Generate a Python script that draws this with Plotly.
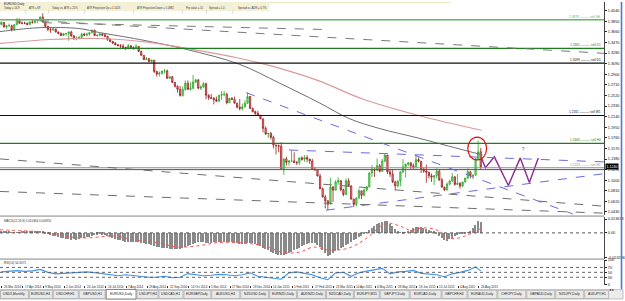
import plotly.graph_objects as go

W, H = 625, 301
XMAX = 606 / 1.3          # trading-day units spanned by the price panel

# ---------------- data ----------------
first_open = 1.3795
close = [1.3830,1.3750,1.3770,1.3770,1.3700,1.3790,1.3890,1.3815,1.3815,1.3815,
         1.3795,1.3835,1.3830,1.3865,1.3870,1.3925,1.3840,1.3760,1.3705,1.3700,
         1.3710,1.3660,1.3635,1.3595,1.3630,1.3630,1.3660,1.3590,1.3535,1.3545,
         1.3560,1.3620,1.3600,1.3620,1.3645,1.3690,1.3595,1.3600,1.3620,1.3605,
         1.3580,1.3525,1.3490,1.3460,1.3430,1.3415,1.3405,1.3380,1.3370,1.3410,
         1.3380,1.3365,1.3400,1.3310,1.3240,1.3165,1.3180,1.3130,1.3150,1.2950,
         1.2905,1.2920,1.2960,1.2960,1.2830,1.2855,1.2755,1.2685,1.2630,1.2520,
         1.2625,1.2740,1.2630,1.2650,1.2760,1.2800,1.2650,1.2670,1.2730,1.2525,
         1.2480,1.2470,1.2445,1.2415,1.2525,1.2535,1.2540,1.2390,1.2470,1.2450,
         1.2380,1.2310,1.2285,1.2315,1.2380,1.2500,1.2290,1.2230,1.2200,1.2160,
         1.2100,1.1930,1.1830,1.1840,1.1770,1.1630,1.1620,1.1610,1.1205,1.1380,
         1.1320,1.1345,1.1345,1.1315,1.1315,1.1400,1.1375,1.1405,1.1380,1.1345,
         1.1200,1.1185,1.1075,1.0845,1.0700,1.0630,1.0570,1.0880,1.0820,1.0970,
         1.0990,1.0830,1.0745,1.0990,1.0900,1.0660,1.0565,1.0680,1.0810,1.0730,
         1.0825,1.0880,1.1130,1.1200,1.1180,1.1260,1.1160,1.1345,1.1450,1.1150,
         1.1110,1.0970,1.0900,1.0985,1.1150,1.1240,1.1290,1.1310,1.1260,1.1240,
         1.1370,1.1340,1.1200,1.1165,1.1145,1.1080,1.1055,1.1080,1.1160,1.1005,
         1.0875,1.0825,1.0930,1.0985,1.1060,1.0925,1.0945,1.0895,1.0965,1.1040,
         1.1150,1.1085,1.1090,1.1385,1.1510,1.1240]
high = [1.3850,1.3835,1.3780,1.3810,1.3790,1.3800,1.3905,1.3895,1.3850,1.3845,
        1.3830,1.3850,1.3875,1.3880,1.3885,1.3940,1.3993,1.3850,1.3770,1.3735,
        1.3730,1.3720,1.3665,1.3650,1.3640,1.3640,1.3665,1.3680,1.3600,1.3580,
        1.3590,1.3645,1.3645,1.3650,1.3660,1.3700,1.3700,1.3615,1.3640,1.3640,
        1.3635,1.3590,1.3545,1.3495,1.3475,1.3445,1.3440,1.3445,1.3395,1.3445,
        1.3425,1.3400,1.3445,1.3385,1.3325,1.3245,1.3210,1.3195,1.3165,1.3160,
        1.2965,1.2950,1.2960,1.2995,1.2985,1.2860,1.2870,1.2760,1.2700,1.2690,
        1.2680,1.2790,1.2790,1.2760,1.2887,1.2810,1.2810,1.2705,1.2760,1.2750,
        1.2540,1.2545,1.2490,1.2500,1.2525,1.2600,1.2600,1.2570,1.2475,1.2490,
        1.2500,1.2390,1.2455,1.2375,1.2435,1.2570,1.2510,1.2300,1.2250,1.2245,
        1.2175,1.2105,1.1965,1.1845,1.1865,1.1800,1.1640,1.1640,1.1680,1.1390,
        1.1420,1.1360,1.1534,1.1500,1.1345,1.1405,1.1430,1.1450,1.1450,1.1380,
        1.1385,1.1240,1.1200,1.1115,1.0870,1.0740,1.0640,1.1043,1.0890,1.1000,
        1.1050,1.1000,1.0850,1.1035,1.1035,1.0900,1.0670,1.0690,1.0850,1.0810,
        1.0850,1.0900,1.1140,1.1270,1.1210,1.1390,1.1290,1.1380,1.1467,1.1450,
        1.1195,1.1190,1.0990,1.0990,1.1160,1.1380,1.1290,1.1320,1.1325,1.1300,
        1.1436,1.1410,1.1345,1.1230,1.1280,1.1150,1.1120,1.1090,1.1215,1.1200,
        1.1040,1.0880,1.0960,1.1010,1.1130,1.1070,1.1110,1.0965,1.0975,1.1040,
        1.1215,1.1160,1.1100,1.1390,1.1714,1.1580]
low = [1.3790,1.3740,1.3715,1.3760,1.3670,1.3680,1.3790,1.3810,1.3795,1.3800,
       1.3780,1.3790,1.3810,1.3810,1.3815,1.3860,1.3830,1.3750,1.3670,1.3645,
       1.3675,1.3650,1.3615,1.3585,1.3590,1.3590,1.3503,1.3570,1.3520,1.3510,
       1.3530,1.3535,1.3585,1.3590,1.3590,1.3640,1.3585,1.3575,1.3590,1.3580,
       1.3570,1.3500,1.3475,1.3440,1.3420,1.3400,1.3370,1.3365,1.3335,1.3355,
       1.3365,1.3340,1.3355,1.3300,1.3240,1.3155,1.3155,1.3110,1.3110,1.2920,
       1.2860,1.2860,1.2895,1.2910,1.2815,1.2815,1.2740,1.2660,1.2570,1.2500,
       1.2500,1.2610,1.2620,1.2610,1.2630,1.2740,1.2640,1.2615,1.2660,1.2450,
       1.2440,1.2455,1.2360,1.2410,1.2430,1.2440,1.2505,1.2360,1.2390,1.2440,
       1.2380,1.2290,1.2250,1.2250,1.2305,1.2370,1.2280,1.2220,1.2165,1.2155,
       1.2100,1.1860,1.1810,1.1755,1.1730,1.1570,1.1460,1.1500,1.1200,1.1098,
       1.1260,1.1260,1.1340,1.1310,1.1270,1.1270,1.1350,1.1330,1.1320,1.1290,
       1.1195,1.1175,1.1070,1.0840,1.0690,1.0495,1.0462,1.0570,1.0610,1.0820,
       1.0920,1.0800,1.0710,1.0730,1.0880,1.0660,1.0520,1.0530,1.0670,1.0660,
       1.0710,1.0800,1.0870,1.1060,1.1060,1.1170,1.1140,1.1150,1.1320,1.1110,
       1.1060,1.0950,1.0819,1.0870,1.0890,1.1130,1.1050,1.1250,1.1190,1.1200,
       1.1210,1.1320,1.1130,1.1130,1.0955,1.1030,1.0970,1.0915,1.1030,1.0990,
       1.0870,1.0808,1.0820,1.0910,1.0970,1.0900,1.0915,1.0850,1.0880,1.0960,
       1.1020,1.1030,1.1020,1.1085,1.1360,1.1200]
open_ = [first_open] + close[:-1]
bar_day = [2 * i + 1 for i in range(len(close))]      # each candle = 2 trading days

macd_hist = [0.0020,0.0018,0.0012,0.0008,0.0004,0.0002,0.0003,0.0006,0.0010,0.0012,
             0.0011,0.0009,0.0008,0.0009,0.0011,0.0014,0.0012,
             -0.0004,-0.0012,-0.0020,-0.0027,-0.0033,
             -0.0040,-0.0047,-0.0053,-0.0060,-0.0063,-0.0068,-0.0066,-0.0068,-0.0062,-0.0056,
             -0.0050,-0.0044,-0.0038,-0.0030,
             -0.0022,-0.0018,-0.0016,-0.0017,-0.0024,-0.0032,
             -0.0042,-0.0052,-0.0062,-0.0070,-0.0076,-0.0081,-0.0086,-0.0088,-0.0087,-0.0088,
             -0.0087,-0.0092,-0.0098,-0.0104,-0.0110,-0.0113,-0.0116,-0.0128,
             -0.0136,-0.0142,-0.0146,-0.0148,-0.0150,-0.0156,-0.0160,-0.0160,-0.0163,-0.0160,
             -0.0152,-0.0140,
             -0.0128,-0.0116,-0.0106,-0.0098,-0.0093,-0.0092,-0.0094,-0.0098,-0.0100,-0.0098,
             -0.0094,-0.0091,-0.0088,-0.0086,-0.0088,-0.0090,-0.0092,-0.0095,
             -0.0098,-0.0104,-0.0110,-0.0112,-0.0108,-0.0100,-0.0098,
             -0.0104,-0.0112,-0.0122,-0.0132,-0.0146,-0.0160,-0.0172,-0.0186,-0.0198,-0.0208,
             -0.0216,-0.0222,
             -0.0220,-0.0212,-0.0200,-0.0186,-0.0172,-0.0158,-0.0146,-0.0134,-0.0124,-0.0114,
             -0.0104,-0.0098,
             -0.0104,-0.0120,-0.0142,-0.0170,-0.0200,-0.0232,
             -0.0218,-0.0200,-0.0184,-0.0168,-0.0150,-0.0136,-0.0124,-0.0110,-0.0094,-0.0076,
             -0.0060,-0.0044,-0.0028,-0.0012,
             0.0006,0.0026,0.0046,0.0066,0.0084,0.0098,0.0110,0.0117,0.0112,
             0.0090,0.0064,0.0040,0.0018,
             0.0004,-0.0004,0.0006,0.0018,
             0.0032,0.0044,0.0054,0.0060,0.0058,0.0050,
             0.0038,0.0030,0.0022,0.0012,-0.0006,
             -0.0030,-0.0056,-0.0074,-0.0078,-0.0066,
             -0.0048,-0.0032,-0.0022,-0.0016,-0.0010,-0.0004,0.0006,0.0020,
             0.0046,0.0080,0.0112,0.0104]

signal_day = [0,33,46,62,77,88,104,121,138,154,169,188,204,219,231,242,254,269,282,298,
              308,317,327,338,348,359,372]
signal_val = [0.0030,0.0008,-0.0020,-0.0050,-0.0040,-0.0030,-0.0070,-0.0095,-0.0140,-0.0125,
              -0.0095,-0.0100,-0.0130,-0.0195,-0.0190,-0.0140,-0.0170,-0.0150,-0.0060,0.0095,
              0.0070,0.0025,0.0050,0.0025,-0.0055,-0.0030,0.0050]

rsi_bar = list(range(0, 186, 3)) + [185]
rsi_val = [52,55,57,54,56,62,50,44,46,48,50,52,49,44,38,36,40,36,34,30,
           30,34,28,30,45,40,36,38,42,40,36,40,48,34,30,26,22,48,52,46,
           40,28,20,48,50,34,48,55,62,66,44,52,54,58,46,44,40,32,44,50,
           58,72,56]

ma_slow_day = [0,30.8,61.5,76.9,107.7,143.8,184.6,215.4,246.2,269.2,292.3,323.1,346.2,372.3]
ma_slow_val = [1.3666,1.3736,1.3719,1.3648,1.3524,1.3347,1.3081,1.2745,1.2391,1.2108,
               1.1931,1.1754,1.1612,1.1453]
ma_long_day = [0,38.5,76.9,115.4,148.5,184.6,210.0,246.2,279.2,323.1,371.5]
ma_long_val = [1.3453,1.3524,1.3542,1.3471,1.3347,1.3188,1.3046,1.2781,1.2462,1.2161,1.1896]

level_price = [1.3878, 1.3365, 1.3099, 1.2161, 1.1660, 1.1223, 1.1190]
level_text = ["1.3878 ——— sell 4H", "1.3365 ——— sell D1", "1.3099 ——— sell D1",
              "1.2161 ——— sell W1", "1.1660 ——— sell H4", "1.1223 ——— res H1", ""]

trend_day0 = [33.1, 30.8, 190.0, 223.0, 251.5, 0.0, 0.0]
trend_p0 = [1.3825, 1.3860, 1.2570, 1.1542, 1.0462, 1.1382, 1.0798]
trend_day1 = [254.0, 466.2, 442.0, 466.2, 466.2, 466.2, 466.2]
trend_p1 = [1.3701, 1.3276, 1.0395, 1.1329, 1.1117, 1.0533, 1.0409]

zig_day = [371.5, 374.6, 381.5, 392.3, 401.5, 408.5, 415.4]
zig_val = [1.1400, 1.1223, 1.1418, 1.0904, 1.1400, 1.0958, 1.1400]

price_ticks = [1.0430,1.0620,1.0810,1.1000,1.1190,1.1380,1.1570,1.1760,1.1950,1.2140,
               1.2330,1.2520,1.2710,1.2900,1.3090,1.3280,1.3470,1.3660,1.3850,1.4040]
macd_ticks = [0.0136, 0.0, -0.0243]
macd_tick_text = ["0.013633", "0.00", "-0.024296"]
rsi_ticks = [100, 70, 50, 30, 0]
rsi_levels = [70, 50, 30]

date_labels = ["26 Mar 2014","17 Apr 2014","9 May 2014","2 Jun 2014","24 Jun 2014",
               "16 Jul 2014","7 Aug 2014","29 Aug 2014","22 Sep 2014","14 Oct 2014",
               "5 Nov 2014","27 Nov 2014","19 Dec 2014","14 Jan 2015","5 Feb 2015",
               "27 Feb 2015","23 Mar 2015","14 Apr 2015","6 May 2015","28 May 2015",
               "19 Jun 2015","13 Jul 2015","4 Aug 2015","26 Aug 2015"]
date_label_day = [16 * j + 1.5 for j in range(len(date_labels))]

tabs = ["USDX,Monthly","EURUSD,H4","USDCHF,H1","GBPUSD,H1","EURUSD,Daily","USDJPY,H4",
        "USDCAD,H1","EURGBP,Daily","AUDUSD,H4","NZDUSD,Daily","EURNZD,Daily","AUDNZD,Daily",
        "NZDCAD,Daily","EURJPY,M15","GBPJPY,Daily","EURCAD,Daily","GBPCHF,H4","EURAUD,Daily",
        "CHFJPY,Daily","GBPAUD,Daily","NZDJPY,Daily","AUDJPY,H1"]
tab_edges = [0,29,53,79,106,137,159,184,212,241,270,298,327,355,381,411,443,469,499,528,
             557,586,611]
header_items = ["Today = 14.9","ATR = 69","Today vs. ATR = 22%","ATR Projection Up = 1.1423",
                "ATR Projection Down = 1.0882","Pip value = 10","Spread = 1.4",
                "Spread vs. ADR = 0.7%"]
header_x = [2, 27, 50, 85, 135, 185, 208, 237]

# ---------------- helpers (pixel -> paper) ----------------
def fx(px):
    return px / W

def fy(py):
    return 1 - py / H

FONT = "Liberation Sans"
XDOM = [0, fx(606)]

fig = go.Figure()

# moving averages
fig.add_trace(go.Scatter(x=ma_slow_day, y=ma_slow_val, mode="lines", line_shape="spline",
                         line=dict(color="#6e6e6e", width=1), hoverinfo="skip"))
fig.add_trace(go.Scatter(x=ma_long_day, y=ma_long_val, mode="lines", line_shape="spline",
                         line=dict(color="#dc9a9a", width=1.2), hoverinfo="skip"))

# candles
fig.add_trace(go.Candlestick(
    x=bar_day, open=open_, high=high, low=low, close=close, whiskerwidth=0,
    increasing=dict(line=dict(color="#2aa82a", width=0.8), fillcolor="#8fe08f"),
    decreasing=dict(line=dict(color="#9a1c1c", width=0.8), fillcolor="#eea4a4"),
    xaxis="x", yaxis="y"))

# projection zigzag
fig.add_trace(go.Scatter(x=zig_day, y=zig_val, mode="lines",
                         line=dict(color="#8a2c8e", width=1.4), hoverinfo="skip"))

# MACD
fig.add_trace(go.Bar(x=bar_day, y=macd_hist, width=1.15, marker_color="#8a8a8a",
                     marker_line_width=0, xaxis="x2", yaxis="y2"))
fig.add_trace(go.Scatter(x=signal_day, y=signal_val, mode="lines", line_shape="spline",
                         line=dict(color="#ff5050", width=1, dash="dot"),
                         xaxis="x2", yaxis="y2"))
# RSI
fig.add_trace(go.Scatter(x=[bar_day[i] for i in rsi_bar], y=rsi_val, mode="lines",
                         line=dict(color="#3c96f0", width=1.1), xaxis="x3", yaxis="y3"))

shapes = []
# header beige strip
shapes.append(dict(type="rect", xref="paper", yref="paper", x0=0, x1=fx(270), y0=fy(9),
                   y1=1, fillcolor="#f4f0d6", line_width=0, layer="below"))
shapes.append(dict(type="rect", xref="paper", yref="paper", x0=fx(270), x1=fx(452),
                   y0=fy(1.2), y1=1, fillcolor="#efe8c4", line_width=0, layer="below"))

# horizontal levels
level_style = [("#62b862", 1.6), ("#1e7d1e", 1.4), ("#111111", 1.2), ("#111111", 1.2),
               ("#1e7d1e", 1.4), ("#8c8c8c", 1.2), ("#555555", 1.0)]
for p, (c, w) in zip(level_price, level_style):
    shapes.append(dict(type="line", xref="x", yref="y", x0=0, x1=XMAX, y0=p, y1=p,
                       line=dict(color=c, width=w)))

# trend lines
trend_style = [("#7a7a7a", "dash"), ("#7a7a7a", "dash"), ("#6a6ae0", "dash"),
               ("#6a6ae0", "dash"), ("#6a6ae0", "dash"), ("#6e6e6e", "dash"),
               ("#6e6e6e", "dash")]
for d0, p0, d1, p1, (c, ds) in zip(trend_day0, trend_p0, trend_day1, trend_p1, trend_style):
    shapes.append(dict(type="line", xref="x", yref="y", x0=d0, y0=p0, x1=d1, y1=p1,
                       line=dict(color=c, width=1, dash=ds)))

# red circle around the spike
spike = bar_day[high.index(max(high[150:]))]
shapes.append(dict(type="circle", xref="x", yref="y", x0=spike - 8, x1=spike + 6.5,
                   y0=1.1365, y1=1.1772, line=dict(color="#e01010", width=1.2)))

# panel separators
for a, b in [(216, 218), (259.8, 261.6)]:
    shapes.append(dict(type="rect", xref="paper", yref="paper", x0=0, x1=fx(606), y0=fy(b),
                       y1=fy(a), fillcolor="#b9b9b9", line_width=0))
# MACD zero and RSI levels
shapes.append(dict(type="line", xref="paper", yref="y2", x0=0, x1=XDOM[1], y0=0, y1=0,
                   line=dict(color="#555", width=1, dash="dot")))
for lv in rsi_levels:
    shapes.append(dict(type="line", xref="paper", yref="y3", x0=0, x1=XDOM[1], y0=lv, y1=lv,
                       line=dict(color="#555", width=0.9, dash="dot")))

# right blue border
shapes.append(dict(type="line", xref="paper", yref="paper", x0=fx(623.5), x1=fx(623.5),
                   y0=fy(291), y1=1, line=dict(color="#4a7bd0", width=1.6)))

# tab bar
shapes.append(dict(type="rect", xref="paper", yref="paper", x0=0, x1=1, y0=0, y1=fy(291.5),
                   fillcolor="#ececec", line=dict(color="#a0a0a0", width=0.6)))
annotations = []
for k, name in enumerate(tabs):
    a, b = tab_edges[k], tab_edges[k + 1]
    sel = name == "EURUSD,Daily" and k == 4
    shapes.append(dict(type="rect", xref="paper", yref="paper", x0=fx(a + 0.5), x1=fx(b - 0.5),
                       y0=fy(300.5) if not sel else fy(301), y1=fy(292.2) if not sel else fy(291.3),
                       fillcolor="#ffffff" if sel else "#e9e9e9",
                       line=dict(color="#555" if sel else "#a8a8a8", width=0.7)))
    annotations.append(dict(xref="paper", yref="paper", x=fx((a + b) / 2), y=fy(296.4),
                            text=name, showarrow=False, xanchor="center", yanchor="middle",
                            font=dict(family=FONT, size=3.3, color="#222")))
annotations.append(dict(xref="paper", yref="paper", x=fx(618), y=fy(296.4), text="◂ ▸",
                        showarrow=False, font=dict(family=FONT, size=4, color="#333")))

# date labels
for d, t in zip(date_label_day, date_labels):
    annotations.append(dict(xref="x3", yref="paper", x=d, y=fy(289), text=t, showarrow=False,
                            xanchor="left", yanchor="middle",
                            font=dict(family=FONT, size=3.0, color="#222")))

# level labels
level_colors = [c for c, _ in level_style]
for p, t, c in zip(level_price, level_text, level_colors):
    if t:
        annotations.append(dict(xref="x", yref="y", x=XMAX - 1, y=p, text=t, showarrow=False,
                                xanchor="right", yanchor="bottom", yshift=-1,
                                font=dict(family=FONT, size=3.2, color=c)))

# current price box
annotations.append(dict(xref="paper", yref="y", x=fx(606.5), y=close[-1],
                        text=f"{close[-1]:.4f}", showarrow=False, xanchor="left",
                        yanchor="middle", bgcolor="#000000", borderpad=0.5,
                        font=dict(family=FONT, size=3.6, color="#ffffff")))
# question mark
annotations.append(dict(xref="x", yref="y", x=404, y=1.1542, text="?", showarrow=False,
                        font=dict(family=FONT, size=4.5, color="#8a2c8e")))

# header texts
annotations.append(dict(xref="paper", yref="paper", x=fx(2), y=fy(2), text="EURUSD,Daily",
                        showarrow=False, xanchor="left", yanchor="middle",
                        font=dict(family=FONT, size=3.0, color="#222")))
for t, xp in zip(header_items, header_x):
    annotations.append(dict(xref="paper", yref="paper", x=fx(xp), y=fy(6.4), text=t,
                            showarrow=False, xanchor="left", yanchor="middle",
                            font=dict(family=FONT, size=2.7, color="#333")))
for xp in [23, 46, 82, 131, 181, 205, 233]:
    annotations.append(dict(xref="paper", yref="paper", x=fx(xp), y=fy(6.4), text="|",
                            showarrow=False, font=dict(family=FONT, size=3, color="#777")))

# panel labels
annotations.append(dict(xref="paper", yref="paper", x=fx(2), y=fy(221.5),
                        text="MACD(12,26,9) 0.010364 0.004951", showarrow=False,
                        xanchor="left", yanchor="middle",
                        font=dict(family=FONT, size=3.0, color="#333")))
annotations.append(dict(xref="paper", yref="paper", x=fx(2), y=fy(264.5),
                        text="RSI(14) 54.3071", showarrow=False, xanchor="left",
                        yanchor="middle", font=dict(family=FONT, size=3.0, color="#333")))

axis_common = dict(showgrid=False, zeroline=False, fixedrange=True)
yfont = dict(family=FONT, size=3.8, color="#111")

fig.update_layout(
    width=W, height=H, margin=dict(l=0, r=0, t=0, b=0),
    paper_bgcolor="#ffffff", plot_bgcolor="#ffffff", showlegend=False,
    bargap=0,
    xaxis=dict(domain=XDOM, range=[0, XMAX], anchor="y", showticklabels=False,
               rangeslider=dict(visible=False), **axis_common),
    xaxis2=dict(domain=XDOM, range=[0, XMAX], anchor="y2", matches="x",
                showticklabels=False, **axis_common),
    xaxis3=dict(domain=XDOM, range=[0, XMAX], anchor="y3", matches="x",
                showticklabels=False, ticks="outside", ticklen=2, tickcolor="#333",
                tickvals=date_label_day, **axis_common),
    yaxis=dict(domain=[fy(216), 1], range=[1.03735, 1.41965], side="right", anchor="x",
               tickvals=price_ticks, ticktext=[f"{v:.4f}" for v in price_ticks],
               tickfont=yfont, ticks="outside", ticklen=2, tickcolor="#222",
               showline=True, linecolor="#444", linewidth=1, **axis_common),
    yaxis2=dict(domain=[fy(260), fy(218)], range=[-0.02532, 0.01558], side="right",
                anchor="x2", tickvals=macd_ticks, ticktext=macd_tick_text, tickfont=yfont,
                ticks="outside", ticklen=2, tickcolor="#222", showline=True,
                linecolor="#444", linewidth=1, **axis_common),
    yaxis3=dict(domain=[fy(286.5), fy(261.5)], range=[0, 100], side="right", anchor="x3",
                tickvals=rsi_ticks, ticktext=[str(v) for v in rsi_ticks], tickfont=yfont,
                ticks="outside", ticklen=2, tickcolor="#222", showline=True,
                linecolor="#444", linewidth=1, **axis_common),
    shapes=shapes, annotations=annotations,
)

fig.write_html("out.html")
